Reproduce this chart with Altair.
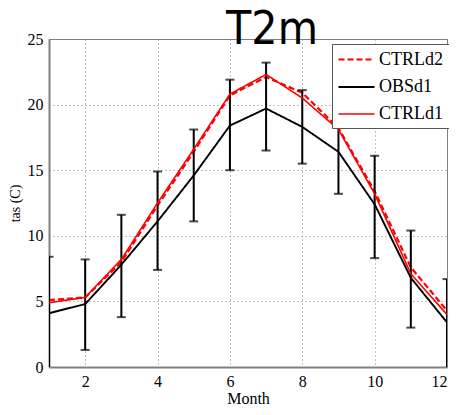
import altair as alt
import pandas as pd

months = list(range(1, 13))
obs = [4.1, 4.8, 7.8, 11.1, 14.6, 18.4, 19.7, 18.3, 16.4, 12.4, 6.8, 3.4]
obs_hi = [8.4, 8.2, 11.6, 14.9, 18.1, 21.9, 23.2, 21.1, 19.6, 16.1, 10.4, 6.7]
obs_lo = [-0.2, 1.3, 3.8, 7.4, 11.1, 15.0, 16.5, 15.5, 13.2, 8.3, 3.0, -0.1]
ctrl1 = [4.9, 5.3, 8.2, 12.5, 16.6, 20.8, 22.3, 20.5, 18.1, 13.2, 7.1, 4.0]
ctrl2 = [5.1, 5.3, 8.0, 12.3, 16.4, 20.7, 22.1, 20.9, 18.2, 13.4, 7.6, 4.3]
series_names = ["CTRLd2", "OBSd1", "CTRLd1"]
series_colors = ["#ff0000", "#000000", "#ff0000"]
x_ticks = [2, 4, 6, 8, 10, 12]
y_ticks = [0, 5, 10, 15, 20, 25]
title_text = "T2m"

rows = []
for name, vals in zip(series_names, [ctrl2, obs, ctrl1]):
    for m, v in zip(months, vals):
        rows.append({"Month": m, "value": v, "Series": name})
long = pd.DataFrame(rows)
err = pd.DataFrame({"Month": months, "lo": obs_lo, "hi": obs_hi})

xs = alt.Scale(domain=[1, 12], nice=False, zero=False)
ys = alt.Scale(domain=[0, 25], nice=False, zero=False)
xax = alt.Axis(values=x_ticks, title="Month", titleFontSize=16, labelFlush=True)
yax = alt.Axis(values=y_ticks, title="tas (C)", titleFontSize=14)

leg = alt.Legend(title=None)
color = alt.Color("Series:N", scale=alt.Scale(domain=series_names, range=series_colors), legend=leg)
dash = alt.StrokeDash("Series:N", scale=alt.Scale(domain=series_names, range=[[6, 3], [1, 0], [1, 0]]), legend=leg)
sw = alt.StrokeWidth("Series:N", scale=alt.Scale(domain=series_names, range=[2.2, 1.6, 2.6]), legend=leg)

base = alt.Chart(long).mark_line(clip=True).encode(
    x=alt.X("Month:Q", scale=xs, axis=xax),
    y=alt.Y("value:Q", scale=ys, axis=yax),
    color=color, strokeDash=dash, strokeWidth=sw,
)
l_ctrl2 = base.transform_filter(alt.datum.Series == "CTRLd2")
l_obs = base.transform_filter(alt.datum.Series == "OBSd1")
l_ctrl1 = base.transform_filter(alt.datum.Series == "CTRLd1")

ebase = alt.Chart(err)
rules = ebase.mark_rule(color="black", strokeWidth=2, clip=True).encode(
    x=alt.X("Month:Q", scale=xs, axis=xax),
    y=alt.Y("lo:Q", scale=ys, axis=yax),
    y2="hi:Q",
)
cap_hi = ebase.mark_tick(color="black", thickness=2, size=9, orient="horizontal", clip=True).encode(
    x=alt.X("Month:Q", scale=xs, axis=xax),
    y=alt.Y("hi:Q", scale=ys, axis=yax),
)
cap_lo = ebase.mark_tick(color="black", thickness=2, size=9, orient="horizontal", clip=True).encode(
    x=alt.X("Month:Q", scale=xs, axis=xax),
    y=alt.Y("lo:Q", scale=ys, axis=yax),
)

title = alt.Chart(pd.DataFrame({"t": [title_text]})).mark_text(
    font="Liberation Sans Narrow, DejaVu Sans Condensed, sans-serif",
    fontSize=46, align="center", baseline="alphabetic", color="black",
).encode(x=alt.value(223), y=alt.value(5), text="t:N")

chart = alt.layer(l_ctrl2, rules, cap_hi, cap_lo, l_obs, l_ctrl1, title).properties(
    width=398, height=328,
    autosize=alt.AutoSizeParams(type="none"),
    padding={"left": 41, "top": 31, "right": 2, "bottom": 40},
).configure_view(
    stroke="#808080", strokeWidth=1,
).configure_axis(
    labelFont="Liberation Serif", labelFontSize=16, labelColor="black",
    titleFont="Liberation Serif", titleFontWeight="normal", titleColor="black",
    domainColor="#808080", domainWidth=2, ticks=False,
    grid=True, gridColor="#808080", gridDash=[1, 3], gridWidth=1, gridOpacity=1,
).configure_axisX(
    labelPadding=6, titlePadding=1,
).configure_axisY(
    labelPadding=6, titlePadding=5,
).configure_legend(
    orient="none", legendX=283, legendY=5,
    fillColor="white", strokeColor="#555555", padding=5,
    symbolType="M-2,0H2", symbolSize=324, symbolOffset=9,
    labelOffset=12, labelFont="Liberation Serif", labelFontSize=18, labelColor="black",
    rowPadding=8,
)

chart.save("out.html", embed_options={"renderer": "svg", "actions": False})
